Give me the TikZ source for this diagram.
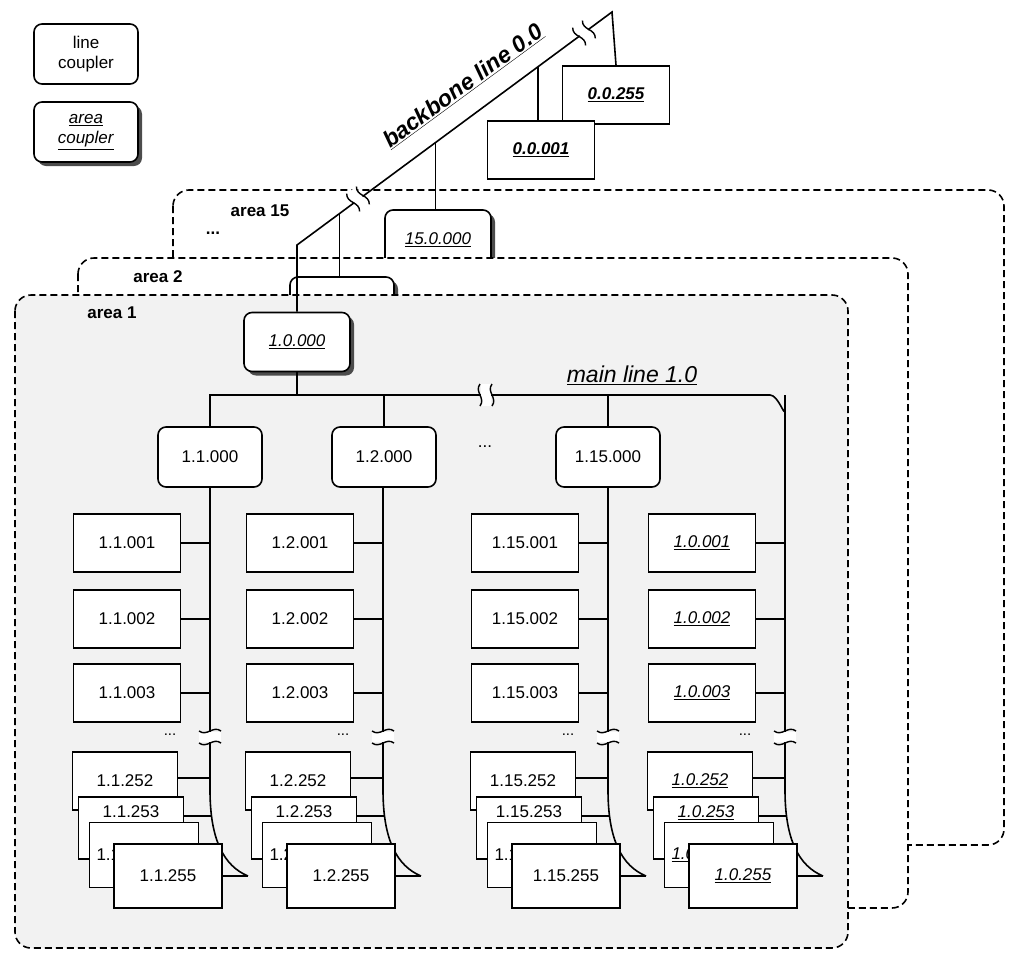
\documentclass[tikz,border=0pt]{standalone}
\usepackage{fontspec}
\setmainfont{Liberation Sans}
\usetikzlibrary{shadows}
\begin{document}
\begin{tikzpicture}[x=1pt,y=-1pt,line width=1.6pt,
 area/.style={draw,dashed,dash pattern=on 7pt off 4pt,rounded corners=16pt},
 dev/.style={draw,fill=white,minimum width=107pt,minimum height=58pt,inner sep=0pt,font=\fontsize{17}{20}\selectfont},
 lc/.style={draw,fill=white,rounded corners=8pt,minimum width=104pt,minimum height=60pt,inner sep=0pt,font=\fontsize{17}{20}\selectfont,align=center},
 ac/.style={lc,drop shadow={shadow xshift=4pt,shadow yshift=-4pt,fill=black!70,opacity=1}},
 bb/.style={dev,font=\fontsize{17}{20}\selectfont\bfseries\itshape}]
\newcommand{\ul}[1]{\underline{\textit{#1}}}
\newcommand{\fmt}[1]{\ifnum\u=1 \ul{#1}\else #1\fi}
\newcommand{\brk}[3]{\begin{scope}[shift={(#1,#2)},rotate=#3]
 \fill[white] (-5,-11) rectangle (5,11);
 \draw[line width=1.4pt] (-6,-11) .. controls (-12,-3) and (0,3) .. (-6,11);
 \draw[line width=1.4pt] (6,-11) .. controls (0,-3) and (12,3) .. (6,11);
 \end{scope}}
\useasboundingbox (0,0) rectangle (1024,969);
% legend
\node[lc] (l1) at (86,54) {line\\coupler};
\node[ac] (l2) at (86,132) {\ul{area}\\\ul{coupler}};
% area 15
\draw[area,fill=white] (173,190) rectangle (1004,845);
\node[font=\fontsize{17}{20}\selectfont\bfseries] (a15) at (260,211) {area 15};
\node[font=\fontsize{17}{20}\selectfont\bfseries] (d15) at (213,233) {...};
\node[ac,minimum width=106pt] (c15) at (438,240) {\ul{15.0.000}};
% backbone devices
\node[bb] (b255) at (616,95) {\ul{0.0.255}};
\node[bb] (b001) at (541,150) {\ul{0.0.001}};
% area 2
\draw[area,fill=white] (78,258) rectangle (908,908);
\node[font=\fontsize{17}{20}\selectfont\bfseries] (a2) at (158,277) {area 2};
\node[ac] (c2) at (342,307) {};
% area 1
\draw[area,fill=black!5] (15,295) rectangle (848,948);
\node[font=\fontsize{17}{20}\selectfont\bfseries] (a1) at (112,313) {area 1};
\node[ac,minimum width=106pt,minimum height=59pt] (c1) at (297,342) {\ul{1.0.000}};
% backbone line
\coordinate (k) at (297,245);
\coordinate (t) at (612,12);
\draw (c1.north) -- (k) -- (t) -- (b255.north);
\path (k) -- (t) coordinate[pos=0.135] (j2) coordinate[pos=0.44] (j15) coordinate[pos=0.765] (j0);
\draw (c2.north -| j2) -- (j2);
\draw (c15.north -| j15) -- (j15);
\draw (b001.north -| j0) -- (j0);
\brk{358}{199}{36}
\brk{584}{33}{36}
\node[rotate=36.3,font=\fontsize{23}{26}\selectfont\bfseries] (bl) at (463,86) {\ul{backbone line 0.0}};
% main line
\coordinate (m0) at (210,395);
\node[lc] (lc1) at (210,457) {1.1.000};
\node[lc] (lc2) at (384,457) {1.2.000};
\node[lc] (lc15) at (608,457) {1.15.000};
\node[font=\fontsize{17}{20}\selectfont] (dots) at (485,447) {...};
\draw (c1.south) -- (297,395);
\draw (lc1.north) -- (m0) -- (770,395) to[out=0,in=-90] (785,410) -- (785,790);
\draw (lc2.north) -- (384,395);
\draw (lc15.north) -- (608,395);
\brk{486}{395}{0}
\node[font=\fontsize{23}{26}\selectfont] (ml) at (632,375) {\ul{main line 1.0}};
% columns
\foreach \lx/\p/\u/\top/\i in {210/1.1/0/487/1, 383/1.2/0/487/2, 608/1.15/0/487/3, 785/1.0/1/395/4}{
 \pgfmathsetmacro{\bx}{\lx-85}
 \draw (\lx,\top) -- (\lx,790) .. controls (\lx,840) and (\lx+14,866) .. (\lx+38,876);
 \foreach \s/\yy in {001/543,002/619,003/693}{
  \node[dev] (d\i-\s) at (\bx+2,\yy) {\fmt{\p.\s}};
  \draw (d\i-\s.east) -- (\lx,\yy);
 }
 \node[font=\fontsize{15}{18}\selectfont] (e\i) at (\lx-40,735) {...};
 \brk{\lx}{737}{90}
 \node[dev,minimum width=105pt] (d\i-252) at (\bx,781) {\fmt{\p.252}};
 \draw (\bx+52,778) -- (\lx,778);
 \node[dev,minimum width=105pt,minimum height=62pt,text depth=32pt] (d\i-253) at (\bx+6,828) {\fmt{\p.253}};
 \draw (\bx+58,816) -- (\lx+2,816);
 \node[dev,minimum width=109pt,minimum height=65pt,text width=95pt,align=left] (d\i-254) at (\bx+19,855) {\fmt{\p.254}};
 \draw (\bx+73,851) -- (\lx+10,851);
 \node[dev,minimum width=108pt,minimum height=64pt] (d\i-255) at (\bx+43,876) {\fmt{\p.255}};
 \draw (d\i-255.east) -- (\lx+38,876);
}
\end{tikzpicture}
\end{document}
